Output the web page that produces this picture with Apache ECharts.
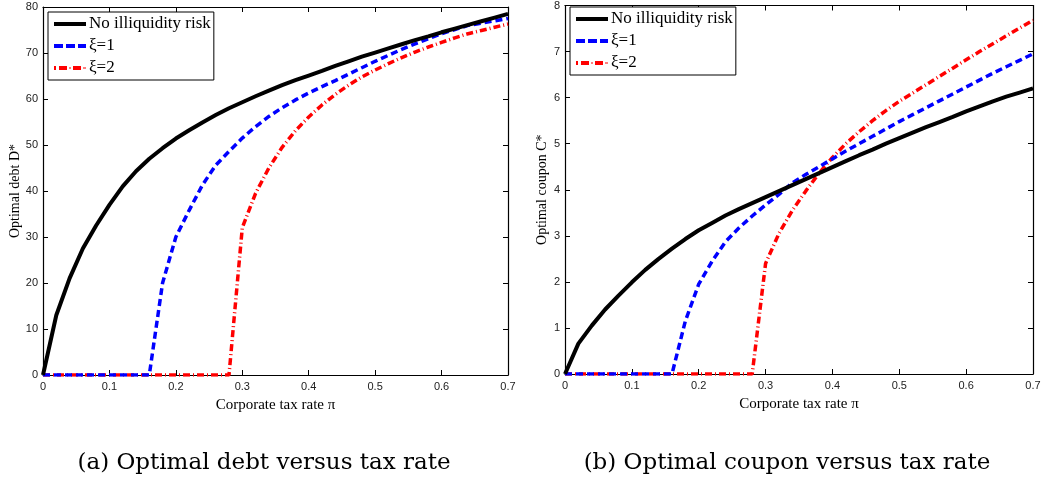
<!DOCTYPE html>
<html>
<head>
<meta charset="utf-8">
<script src="https://cdn.jsdelivr.net/npm/echarts@6/dist/echarts.min.js"></script>
<style>html,body{margin:0;padding:0;background:#fff}#c{width:1046px;height:479px}</style>
</head>
<body>
<div id="c"></div>
<script>
// ---- data ----
const taxRates = [0,0.02,0.04,0.06,0.08,0.10,0.12,0.14,0.16,0.18,0.20,0.22,0.24,0.26,0.28,0.30,0.32,0.34,0.36,0.38,0.40,0.42,0.44,0.46,0.48,0.50,0.52,0.54,0.56,0.58,0.60,0.62,0.64,0.66,0.68,0.70];
const seriesNames = ['No illiquidity risk', '\u03BE=1', '\u03BE=2'];
// (a) optimal debt D*
const debtNoRisk = [0,13,21,27.5,32.5,37,41,44.3,47,49.3,51.4,53.2,54.9,56.5,58.0,59.3,60.6,61.8,63.0,64.1,65.1,66.1,67.2,68.2,69.2,70.1,71.0,71.9,72.8,73.6,74.5,75.3,76.1,76.9,77.7,78.5];
const debtXi1 = [0,0,0,0,0,0,0,0,0,20,30,35.8,41.3,45.6,48.6,51.5,54.0,56.2,58.1,59.8,61.3,62.7,64.0,65.4,66.8,68.2,69.5,70.8,72.0,73.1,74.2,75.1,76.0,76.5,77.0,77.5];
const debtXi2 = [0,0,0,0,0,0,0,0,0,0,0,0,0,0,0,32,39.5,45,49.5,53.1,56.1,58.7,61.0,63.0,64.8,66.3,67.7,69.0,70.2,71.3,72.3,73.3,74.2,74.9,75.6,76.3];
// (b) optimal coupon C*
const couponNoRisk = [0,0.66,1.05,1.4,1.7,1.99,2.26,2.5,2.72,2.93,3.12,3.28,3.44,3.58,3.71,3.84,3.97,4.10,4.23,4.36,4.49,4.62,4.75,4.87,5.0,5.12,5.24,5.36,5.47,5.58,5.70,5.81,5.92,6.02,6.11,6.2];
const couponXi1 = [0,0,0,0,0,0,0,0,0,1.15,1.95,2.45,2.87,3.17,3.43,3.67,3.9,4.15,4.33,4.50,4.67,4.84,5.0,5.16,5.32,5.48,5.63,5.78,5.93,6.08,6.23,6.38,6.53,6.67,6.81,6.95];
const couponXi2 = [0,0,0,0,0,0,0,0,0,0,0,0,0,0,0,2.4,3.05,3.55,3.97,4.36,4.7,5.0,5.26,5.5,5.72,5.92,6.1,6.28,6.46,6.64,6.82,7.0,7.17,7.34,7.51,7.68];
const xTickLabels = ['0','0.1','0.2','0.3','0.4','0.5','0.6','0.7'];
const captions = ['(a) Optimal debt versus tax rate', '(b) Optimal coupon versus tax rate'];
const xTitle = 'Corporate tax rate \u03C0';
const yTitles = ['Optimal debt D*', 'Optimal coupon C*'];

// ---- build ----
const pairs = (ys) => taxRates.map((x, i) => [x, ys[i]]);
const serif = 'Liberation Serif';
const sans = 'Liberation Sans';
const tickStyle = {show: true, inside: true, length: 5, lineStyle: {color: '#000', width: 1}};
const axisLine = {show: true, onZero: false, lineStyle: {color: '#000', width: 1.2}};
const lblStyle = {color: '#222', fontFamily: sans, fontSize: 11};

function xAxes(gi) {
  return [
    {gridIndex: gi, type: 'value', position: 'bottom', min: 0, max: 0.7, interval: 0.1,
     name: xTitle, nameLocation: 'middle', nameGap: 23,
     nameTextStyle: {fontFamily: serif, fontSize: 15, color: '#000'},
     axisLine: axisLine, axisTick: tickStyle, splitLine: {show: false},
     axisLabel: Object.assign({margin: 6, formatter: (v) => xTickLabels[Math.round(v * 10)]}, lblStyle)},
    {gridIndex: gi, type: 'value', position: 'top', min: 0, max: 0.7, interval: 0.1,
     axisLine: axisLine, axisTick: tickStyle, splitLine: {show: false}, axisLabel: {show: false}}
  ];
}
function yAxes(gi, max, interval, title, gap) {
  return [
    {gridIndex: gi, type: 'value', position: 'left', min: 0, max: max, interval: interval,
     name: title, nameLocation: 'middle', nameGap: gap, nameRotate: 90,
     nameTextStyle: {fontFamily: serif, fontSize: 14, color: '#000'},
     axisLine: axisLine, axisTick: tickStyle, splitLine: {show: false},
     axisLabel: Object.assign({margin: 5}, lblStyle)},
    {gridIndex: gi, type: 'value', position: 'right', min: 0, max: max, interval: interval,
     axisLine: axisLine, axisTick: tickStyle, splitLine: {show: false}, axisLabel: {show: false}}
  ];
}
const styles = [
  {color: '#000', width: 4, type: 'solid'},
  {color: '#0000ff', width: 3.5, type: [7, 4]},
  {color: '#ff0000', width: 3.5, type: [7, 3, 1, 3]}
];
// legend sample glyphs (solid, dashed, dash-dot) drawn as paths in a 32x4 box
const legendIcons = [
  'path://M0,0H32V4H0Z',
  'path://M0,0H9V4H0ZM12,0H21V4H12ZM24,0H32V4H24Z',
  'path://M0,0H2V4H0ZM5,0H13V4H5ZM15,1.5H17V2.5H15ZM19,0H27V4H19ZM29,1.5H32V2.5H29Z'
];
function mkSeries(gi, arrs) {
  return arrs.map((ys, k) => ({
    type: 'line', name: seriesNames[k], xAxisIndex: gi * 2, yAxisIndex: gi * 2,
    data: pairs(ys), showSymbol: false, symbol: 'none', smooth: false,
    lineStyle: styles[k], itemStyle: {color: styles[k].color}, z: 3 - k, animation: false
  }));
}
function mkLegend(left, top) {
  return {
    orient: 'vertical', left: left, top: top,
    data: seriesNames.map((n, k) => ({name: n, icon: legendIcons[k]})),
    itemWidth: 32, itemHeight: 4, itemGap: 4,
    padding: [3, 3, 3, 6], borderColor: '#000', borderWidth: 1, backgroundColor: '#fff',
    textStyle: {fontFamily: serif, fontSize: 17, color: '#000', lineHeight: 18, padding: [0, 0, 0, -2]},
    selectedMode: false
  };
}

const chart = echarts.init(document.getElementById('c'), null, {renderer: 'canvas'});
chart.setOption({
  backgroundColor: '#fff',
  animation: false,
  title: [
    {text: captions[0], left: 259, top: 447, textAlign: 'center',
     textStyle: {fontFamily: 'DejaVu Serif', fontSize: 23, fontWeight: 'normal', color: '#000'}},
    {text: captions[1], left: 782, top: 447, textAlign: 'center',
     textStyle: {fontFamily: 'DejaVu Serif', fontSize: 23, fontWeight: 'normal', color: '#000'}}
  ],
  grid: [
    {left: 43, top: 7, width: 465, height: 368},
    {left: 565, top: 1, width: 468, height: 373}
  ],
  legend: [mkLegend(48, 12), mkLegend(570, 7)],
  xAxis: xAxes(0).concat(xAxes(1)),
  yAxis: yAxes(0, 80, 10, yTitles[0], 20).concat(yAxes(1, 8, 1, yTitles[1], 16)),
  series: mkSeries(0, [debtNoRisk, debtXi1, debtXi2]).concat(mkSeries(1, [couponNoRisk, couponXi1, couponXi2]))
});
</script>
</body>
</html>
